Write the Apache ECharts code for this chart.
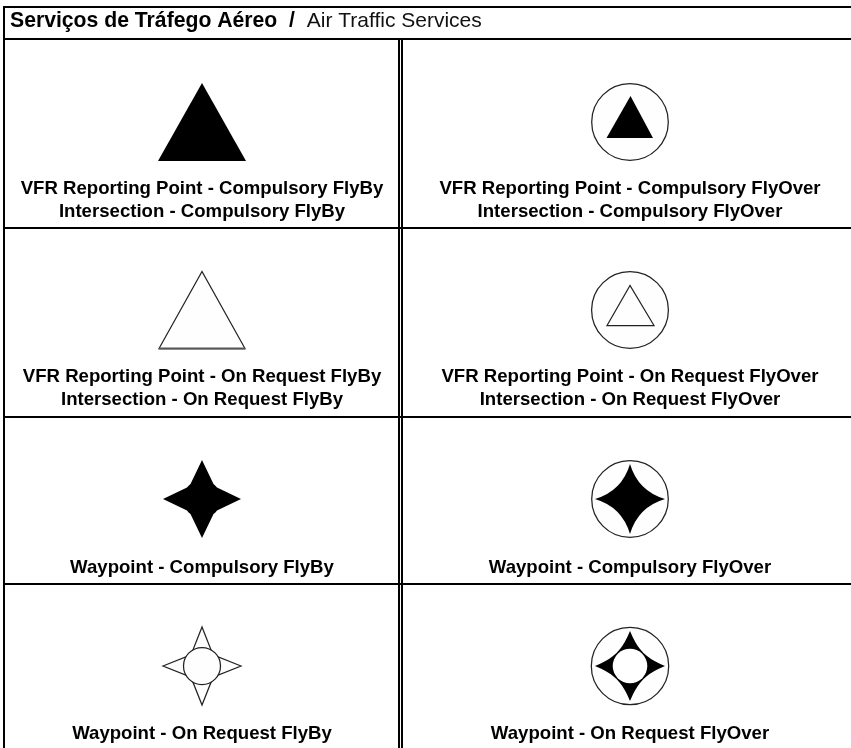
<!DOCTYPE html>
<html>
<head>
<meta charset="utf-8">
<title>Air Traffic Services</title>
<style>
html, body { margin: 0; padding: 0; background: #fff; }
#main { width: 851px; height: 748px; }
</style>
<script src="https://cdn.jsdelivr.net/npm/echarts@6/dist/echarts.min.js"></script>
</head>
<body>
<div id="main"></div>
<script>
// data
var titleBold = 'Serviços de Tráfego Aéreo  /  ';
var titleLight = 'Air Traffic Services';
var symbolKinds = [
    ['triangleSolid', 'triangleSolidRing'],
    ['triangleOpen', 'triangleOpenRing'],
    ['starSolid', 'starSolidRing'],
    ['starOpen', 'starHollowRing']
];
var cellLabels = [
    ['VFR Reporting Point - Compulsory FlyBy\nIntersection - Compulsory FlyBy', 'VFR Reporting Point - Compulsory FlyOver\nIntersection - Compulsory FlyOver'],
    ['VFR Reporting Point - On Request FlyBy\nIntersection - On Request FlyBy', 'VFR Reporting Point - On Request FlyOver\nIntersection - On Request FlyOver'],
    ['Waypoint - Compulsory FlyBy', 'Waypoint - Compulsory FlyOver'],
    ['Waypoint - On Request FlyBy', 'Waypoint - On Request FlyOver']
];

// layout, in page pixels
var W = 851, H = 748;
var leftX = 4, topY = 7, headY = 39;
var ruleYs = [228, 417, 584];
var doubleXs = [399, 402];
var colX = [202, 630];
var symbolY = [122, 310, 499, 666];
var labelY = [200, 388, 568, 734];

var cells = [];
symbolKinds.forEach(function (row, r) {
    row.forEach(function (kind, c) {
        cells.push({ value: [colX[c], symbolY[r]], kind: kind, label: cellLabels[r][c] });
    });
});

var rules = [
    [leftX - 1, topY, W, topY],
    [leftX - 1, headY, W, headY],
    [leftX, topY, leftX, H],
    [doubleXs[0], headY, doubleXs[0], H],
    [doubleXs[1], headY, doubleXs[1], H]
];
ruleYs.forEach(function (y) { rules.push([leftX, y, W, y]); });

// 四角星的轮廓, 中心在 0 0
var starWaistPath = 'M0 -39L11.5 -15Q13.5 -13.5 15 -11.5L39 0L15 11.5Q13.5 13.5 11.5 15L0 39L-11.5 15Q-13.5 13.5 -15 11.5L-39 0L-15 -11.5Q-13.5 -13.5 -11.5 -15Z';
var starCurvePath = 'M0 -35Q8 -8 35 0Q8 8 0 35Q-8 8 -35 0Q-8 -8 0 -35Z';
var starWidePath = 'M0 -35Q5 -23 10 -17Q13 -13 17 -10Q23 -5 35 0Q23 5 17 10Q13 13 10 17Q5 23 0 35Q-5 23 -10 17Q-13 13 -17 10Q-23 5 -35 0Q-23 -5 -17 -10Q-13 -13 -10 -17Q-5 -23 0 -35Z';

function star(path, cx, cy, r, style) {
    return {
        type: 'path',
        shape: { pathData: path, layout: 'cover', x: cx - r, y: cy - r, width: r * 2, height: r * 2 },
        style: style
    };
}
function ring(cx, cy, r, style) {
    return { type: 'circle', shape: { cx: cx, cy: cy, r: r }, style: style };
}
function tri(points, style) {
    return { type: 'polygon', shape: { points: points }, style: style };
}

var solid = { fill: '#000', stroke: null };
var outline = { fill: '#fefefe', stroke: '#222', lineWidth: 1.25 };
var blank = { fill: '#fff', stroke: null };

function buildSymbol(kind, x, y) {
    switch (kind) {
        case 'triangleSolid':
            return [tri([[x, y - 39], [x - 44, y + 39], [x + 44, y + 39]], solid)];
        case 'triangleSolidRing':
            return [
                ring(x, y, 38.3, outline),
                tri([[x + 0.5, y - 26], [x - 23.5, y + 16], [x + 23, y + 16]], solid)
            ];
        case 'triangleOpen':
            return [
                tri([[x, y - 38.5], [x - 43, y + 38.5], [x + 43, y + 38.5]], outline),
                { type: 'line', shape: { x1: x - 43, y1: y + 38.5, x2: x + 43, y2: y + 38.5 }, style: { stroke: '#555', lineWidth: 2 } }
            ];
        case 'triangleOpenRing':
            return [
                ring(x, y, 38.4, outline),
                tri([[x, y - 24.5], [x - 23, y + 15.5], [x + 24, y + 15.5]], outline)
            ];
        case 'starSolid':
            return [star(starWaistPath, x, y, 39, solid)];
        case 'starSolidRing':
            return [ring(x, y, 38.3, outline), star(starCurvePath, x, y, 35, solid)];
        case 'starOpen':
            // 四个尖角 + 中间的圆
            return [
                tri([[x, y - 39], [x - 9.5, y - 15], [x + 9.5, y - 15]], outline),
                tri([[x, y + 39], [x - 9.5, y + 15], [x + 9.5, y + 15]], outline),
                tri([[x - 39, y], [x - 15, y - 9.5], [x - 15, y + 9.5]], outline),
                tri([[x + 39, y], [x + 15, y - 9.5], [x + 15, y + 9.5]], outline),
                ring(x, y, 18.5, outline)
            ];
        case 'starHollowRing':
            return [
                ring(x, y, 38.7, outline),
                star(starWidePath, x, y, 35, solid),
                ring(x, y, 17.3, blank)
            ];
    }
    return [];
}

var myChart = echarts.init(document.getElementById('main'));

var option = {
    animation: false,
    backgroundColor: '#fff',
    title: {
        left: 10,
        top: 6,
        padding: 0,
        text: '{b|' + titleBold + '}{n|' + titleLight + '}',
        textStyle: {
            rich: {
                b: { fontFamily: 'Liberation Sans', fontSize: 21.2, fontWeight: 'bold', color: '#000', lineHeight: 30 },
                n: { fontFamily: 'Liberation Sans', fontSize: 21, fontWeight: 'normal', color: '#111', lineHeight: 30 }
            }
        }
    },
    grid: { left: 0, right: 0, top: 0, bottom: 0 },
    xAxis: { type: 'value', min: 0, max: W, show: false },
    yAxis: { type: 'value', min: 0, max: H, inverse: true, show: false },
    series: [
        {
            type: 'custom',
            name: 'rules',
            silent: true,
            data: rules,
            renderItem: function (params, api) {
                var a = api.coord([api.value(0), api.value(1)]);
                var b = api.coord([api.value(2), api.value(3)]);
                return {
                    type: 'line',
                    shape: { x1: a[0], y1: a[1], x2: b[0], y2: b[1] },
                    style: { stroke: '#000', lineWidth: 2 }
                };
            }
        },
        {
            type: 'custom',
            name: 'symbols',
            silent: true,
            data: cells,
            renderItem: function (params, api) {
                var cell = cells[params.dataIndex];
                var p = api.coord([api.value(0), api.value(1)]);
                var r = Math.floor(params.dataIndex / 2);
                var children = buildSymbol(cell.kind, p[0], p[1]);
                children.push({
                    type: 'text',
                    style: {
                        x: p[0],
                        y: labelY[r],
                        text: cell.label,
                        align: 'center',
                        verticalAlign: 'middle',
                        fontFamily: 'Liberation Sans',
                        fontSize: 18.6,
                        fontWeight: 'bold',
                        lineHeight: 23,
                        fill: '#000'
                    }
                });
                return { type: 'group', children: children };
            }
        }
    ]
};

myChart.setOption(option);
</script>
</body>
</html>
